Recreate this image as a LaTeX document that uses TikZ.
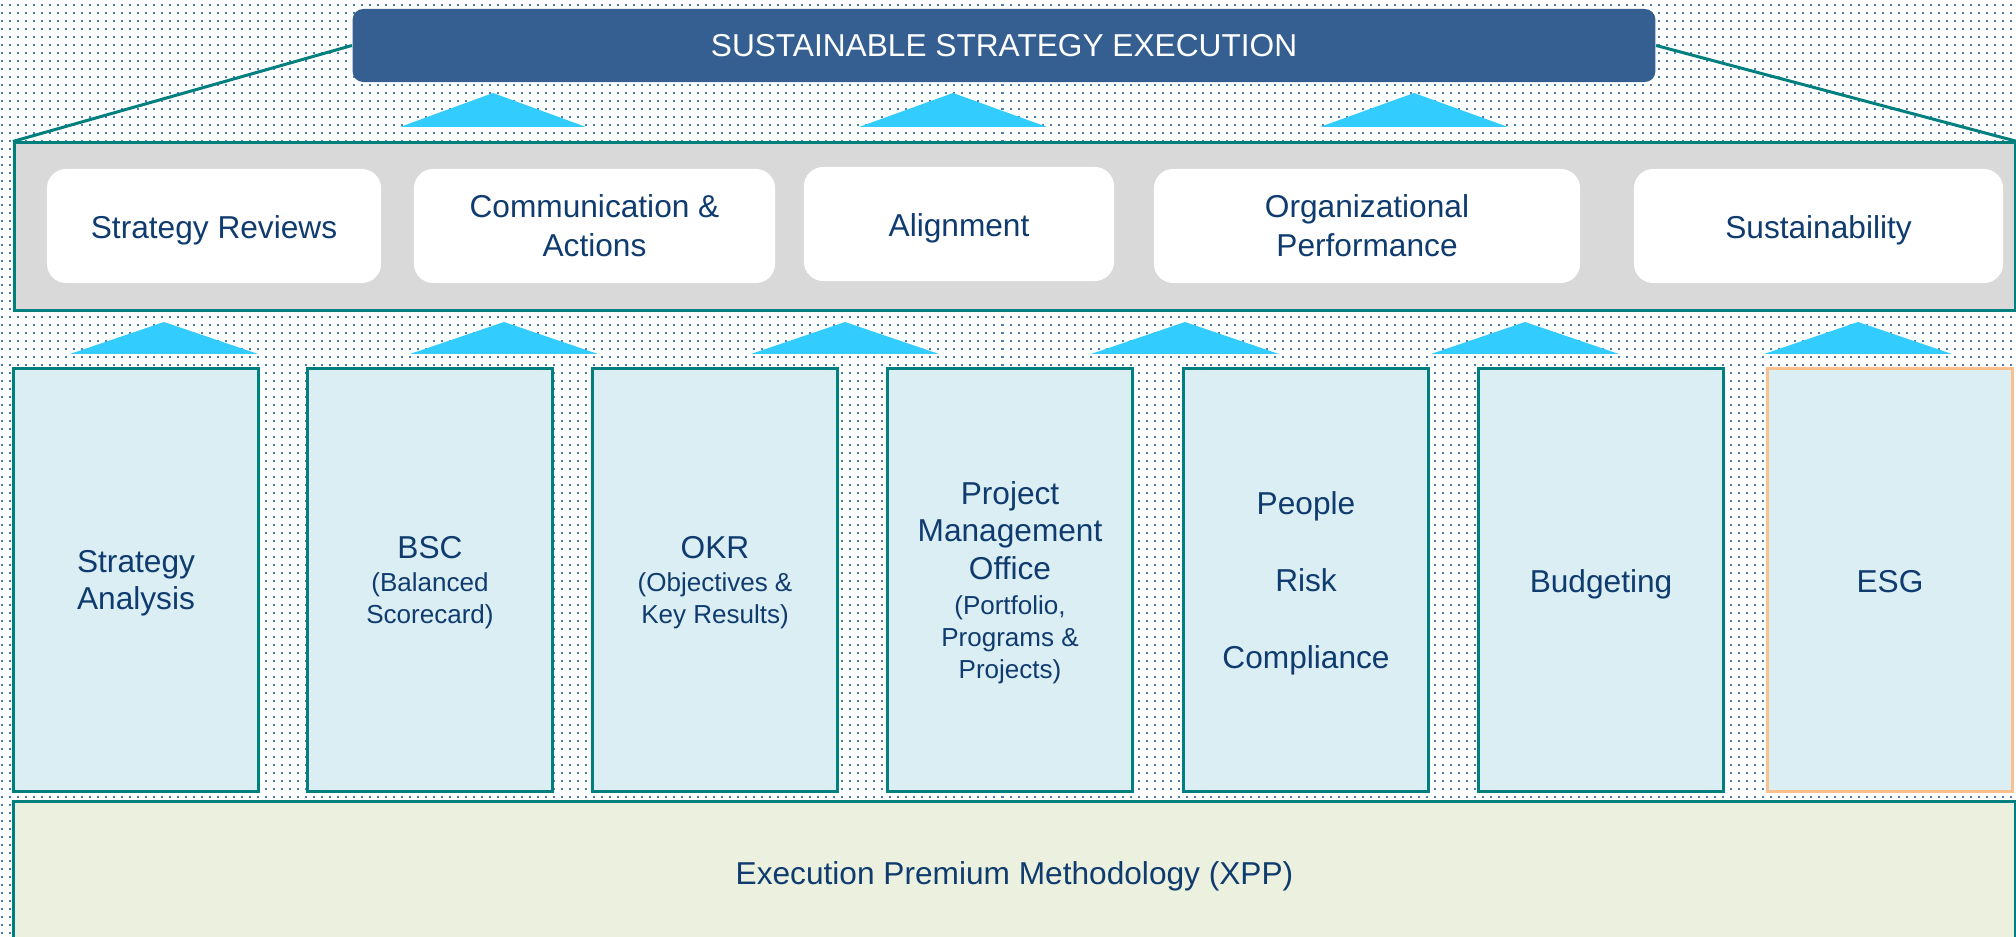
\documentclass[tikz,border=0pt]{standalone}
\usepackage{fontspec}
\setmainfont{Liberation Sans}
\usepackage{xcolor}

\definecolor{titleblue}{HTML}{365F91}
\definecolor{edgeteal}{HTML}{007F7F}
\definecolor{bandgray}{HTML}{D9D9D9}
\definecolor{triblue}{HTML}{33CCFF}
\definecolor{pillarfill}{HTML}{DAEEF3}
\definecolor{esgedge}{HTML}{FAC090}
\definecolor{basefill}{HTML}{EBF1DE}
\definecolor{textblue}{HTML}{0F3B6F}
\definecolor{dotblue}{HTML}{4A7EBB}

\newcommand{\smalltxt}{\fontsize{7.4}{9}\selectfont}

\begin{document}
\begin{tikzpicture}[
    x=0.01cm, y=-0.01cm,
    every node/.style={font=\fontsize{9}{10.7}\selectfont, text=textblue, align=center, inner sep=0pt},
    oneline/.style={text height=9.2pt},
    headbox/.style={rectangle, rounded corners=3pt, fill=titleblue, text=white, minimum width=13.02cm, minimum height=0.73cm},
    bandbox/.style={rectangle, draw=edgeteal, line width=0.85pt, fill=bandgray, minimum width=20cm, minimum height=1.67cm},
    card/.style={rectangle, rounded corners=5.5pt, fill=white, minimum height=1.14cm},
    pillar/.style={rectangle, draw=edgeteal, line width=0.85pt, fill=pillarfill, minimum width=2.44cm, minimum height=4.22cm},
    basebox/.style={rectangle, draw=edgeteal, line width=0.85pt, fill=basefill, minimum width=20.01cm, minimum height=1.48cm},
    tri/.style={fill=triblue},
    link/.style={draw=edgeteal, line width=0.85pt},
    dotrow/.style={draw=dotblue, line width=0.569pt, dash pattern=on 0.569pt off 1.707pt}
]
    % dotted backdrop
    \useasboundingbox (0,0) rectangle (2016,937);
    \fill[white] (0,0) rectangle (2016,937);
    \foreach \r in {5,13,...,933}
        \draw[dotrow] (1,\r) -- (2016,\r);

    \node[bandbox] (band) at (1015,226.5) {};
    \node[headbox] (title) at (1004,45.5) {SUSTAINABLE STRATEGY EXECUTION};

    \draw[link] (title.west) -- (band.north west);
    \draw[link] (title.east) -- (band.north east);

    % upper arrows
    \fill[tri] (400,127) -- (493,93) -- (586,127) -- cycle;
    \fill[tri] (859,127) -- (953,93) -- (1047,127) -- cycle;
    \fill[tri] (1320,127) -- (1414,93) -- (1508,127) -- cycle;

    \node[card, oneline, minimum width=3.34cm] (reviews) at (214,226) {Strategy Reviews};
    \node[card, minimum width=3.61cm] (comms) at (594.5,226) {Communication \&\\[0.4pt]Actions};
    \node[card, oneline, minimum width=3.10cm] (align) at (959,224) {Alignment};
    \node[card, minimum width=4.26cm] (perf) at (1367,226) {Organizational\\[0.4pt]Performance};
    \node[card, oneline, minimum width=3.69cm] (sust) at (1818.5,226) {Sustainability};

    % lower arrows
    \fill[tri] (70,354) -- (164,322) -- (258,354) -- cycle;
    \fill[tri] (410,354) -- (504,322) -- (598,354) -- cycle;
    \fill[tri] (751,354) -- (845,322) -- (939,354) -- cycle;
    \fill[tri] (1091,354) -- (1185,322) -- (1279,354) -- cycle;
    \fill[tri] (1431,354) -- (1525,322) -- (1619,354) -- cycle;
    \fill[tri] (1764,354) -- (1858,322) -- (1952,354) -- cycle;

    \node[pillar, text depth=-1.3pt] (analysis) at (136,580) {Strategy\\Analysis};
    \node[pillar, text depth=0.1pt] (bsc) at (430,580) {BSC\\[-1.3pt]{\smalltxt (Balanced}\\[-1.6pt]{\smalltxt Scorecard)}};
    \node[pillar, text depth=0.1pt] (okr) at (715,580) {OKR\\[-1.3pt]{\smalltxt (Objectives \&}\\[-1.6pt]{\smalltxt Key Results)}};
    \node[pillar, text depth=-1pt] (pmo) at (1010,580) {Project\\Management\\Office\\[-0.7pt]{\smalltxt (Portfolio,}\\[-1.6pt]{\smalltxt Programs \&}\\[-1.6pt]{\smalltxt Projects)}};
    \node[pillar, text depth=-0.7pt] (prc) at (1306,580) {People\\[11.2pt]Risk\\[11.2pt]Compliance};
    \node[pillar, oneline] (budget) at (1601,580) {Budgeting};
    \node[pillar, oneline, draw=esgedge, text depth=1.9pt] (esg) at (1890,580) {ESG};

    \node[basebox] (xpp) at (1014.5,876) {Execution Premium Methodology (XPP)};
\end{tikzpicture}
\end{document}
